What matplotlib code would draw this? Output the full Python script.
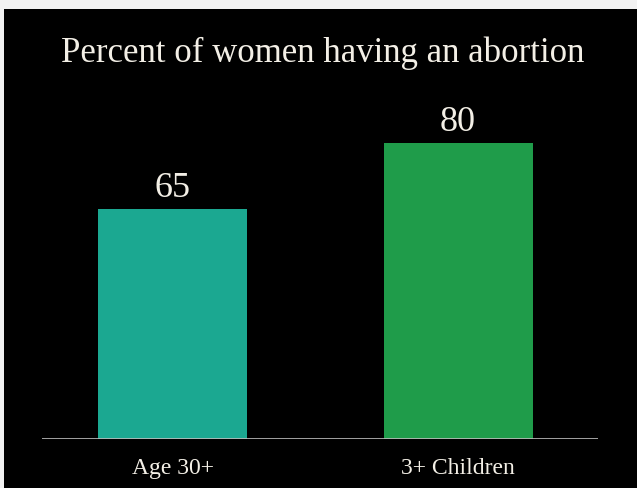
import matplotlib.pyplot as plt
from matplotlib.patches import Rectangle

categories = ['Age 30+', '3+ Children']
values = [65, 80]
colors = ['#1ba891', '#1f9c4a']

plt.rcParams['font.family'] = ['Liberation Serif', 'DejaVu Serif']

fig = plt.figure(figsize=(6.37, 4.89), dpi=100)
fig.patch.set_facecolor('#f2f2f2')
# black slide area
fig.patches.append(Rectangle((4 / 637, 0), 1, 479 / 489, transform=fig.transFigure,
                             facecolor='black', edgecolor='none', zorder=-1))

ax = fig.add_axes([42 / 637, 49 / 489, 556 / 637, 340 / 489])
ax.set_facecolor('none')
x = list(range(len(categories)))
ax.bar(x, values, width=0.522, color=colors, bottom=0)
ax.set_xlim(-0.457, 1.49)
ax.set_ylim(12.7, 90)

# baseline
ax.axhline(12.7, color='#bdbdbd', lw=1.2, zorder=3)

for xi, v in zip(x, values):
    ax.text(xi, v + 1.2, str(v), ha='center', va='bottom', color='#f3efe6', fontsize=26)

ax.set_xticks(x)
ax.set_xticklabels(categories, color='#f3efe6', fontsize=17)
ax.tick_params(axis='x', length=0, pad=13)
ax.set_yticks([])
for s in ax.spines.values():
    s.set_visible(False)

fig.text(323 / 637, 1 - 53 / 489, 'Percent of women having an abortion',
         ha='center', va='center', color='#f3efe6', fontsize=25)

fig.savefig('out.png', dpi=100, facecolor=fig.get_facecolor())
